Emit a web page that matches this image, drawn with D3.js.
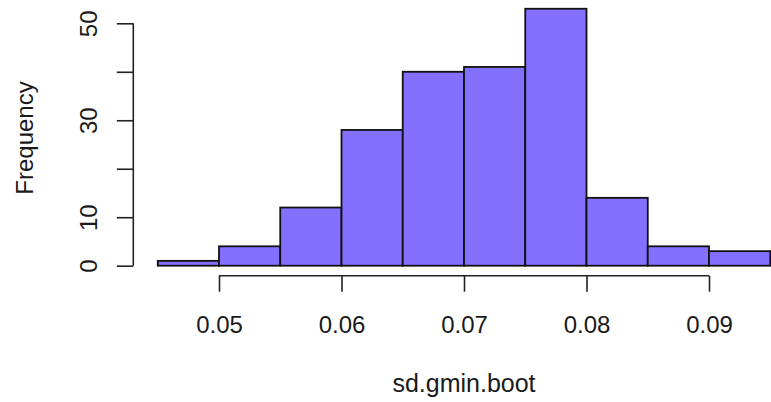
<!DOCTYPE html>
<html>
<head>
<meta charset="utf-8">
<script src="https://cdn.jsdelivr.net/npm/d3@7"></script>
<style>
  body { margin: 0; background: #ffffff; }
  text { font-family: "Liberation Sans", Arial, sans-serif; fill: #1a1a1a; }
</style>
</head>
<body>
<div class="hist_chart"></div>
<script>
// Histogram data (bin breaks and counts)
var breaks = [0.045, 0.05, 0.055, 0.06, 0.065, 0.07, 0.075, 0.08, 0.085, 0.09, 0.095];
var counts = [1, 4, 12, 28, 40, 41, 53, 14, 4, 3];
var xTicks = [0.05, 0.06, 0.07, 0.08, 0.09];
var yTicks = [0, 10, 20, 30, 40, 50];
var yLabels = [0, 10, 30, 50];

var width = 771,
height = 402;

var bins = counts.map(function(c, i) {
  return { x0: breaks[i], x1: breaks[i + 1], count: c };
});

var svg = d3.select(".hist_chart")
  .append("svg")
  .attr("width", width)
  .attr("height", height);

// Scales
var x = d3.scaleLinear()
  .domain([0.05, 0.09])
  .range([219, 709]);

var y = d3.scaleLinear()
  .domain([0, 50])
  .range([265.7, 23.3]);

// Bars
svg.append("g")
  .selectAll("rect")
  .data(bins)
  .enter()
  .append("rect")
    .attr("x", d => x(d.x0))
    .attr("y", d => y(d.count))
    .attr("width", d => x(d.x1) - x(d.x0))
    .attr("height", d => y(0) - y(d.count))
    .attr("fill", "#8470ff")
    .attr("stroke", "#111111")
    .attr("stroke-width", 1.8);

// Y axis
var yAxisX = 133.3;
svg.append("g")
  .attr("transform", "translate(" + yAxisX + ",0)")
  .style("font-size", "24px")
  .call(d3.axisLeft(y)
    .tickValues(yTicks)
    .tickSize(16.5)
    .tickFormat(d => yLabels.includes(d) ? d : ""))
  .call(g => g.select(".domain").remove())
  .call(g => g.selectAll(".tick line").attr("stroke", "#222222").attr("stroke-width", 1.6))
  .call(g => g.selectAll(".tick text")
    .attr("transform", "rotate(-90)")
    .attr("x", 0)
    .attr("y", -36)
    .attr("dy", 0)
    .attr("fill", "#1a1a1a")
    .style("text-anchor", "middle"));

svg.append("line")
  .attr("x1", yAxisX)
  .attr("x2", yAxisX)
  .attr("y1", y(yTicks[0]))
  .attr("y2", y(yTicks[yTicks.length - 1]))
  .attr("stroke", "#222222")
  .attr("stroke-width", 1.6);

// X axis
var xAxisY = 275.7;
svg.append("g")
  .attr("transform", "translate(0," + xAxisY + ")")
  .style("font-size", "24px")
  .call(d3.axisBottom(x)
    .tickValues(xTicks)
    .tickSize(16)
    .tickFormat(d3.format(".2f")))
  .call(g => g.select(".domain").remove())
  .call(g => g.selectAll(".tick line").attr("stroke", "#222222").attr("stroke-width", 1.6))
  .call(g => g.selectAll(".tick text")
    .attr("y", 57.3)
    .attr("dy", 0)
    .attr("fill", "#1a1a1a"));

svg.append("line")
  .attr("x1", x(xTicks[0]))
  .attr("x2", x(xTicks[xTicks.length - 1]))
  .attr("y1", xAxisY)
  .attr("y2", xAxisY)
  .attr("stroke", "#222222")
  .attr("stroke-width", 1.6);

// Axis titles
svg.append("text")
  .attr("x", 464)
  .attr("y", 392)
  .style("font-size", "25px")
  .style("text-anchor", "middle")
  .text("sd.gmin.boot");

svg.append("text")
  .attr("transform", "translate(33,138) rotate(-90)")
  .style("font-size", "24px")
  .style("text-anchor", "middle")
  .text("Frequency");
</script>
</body>
</html>
